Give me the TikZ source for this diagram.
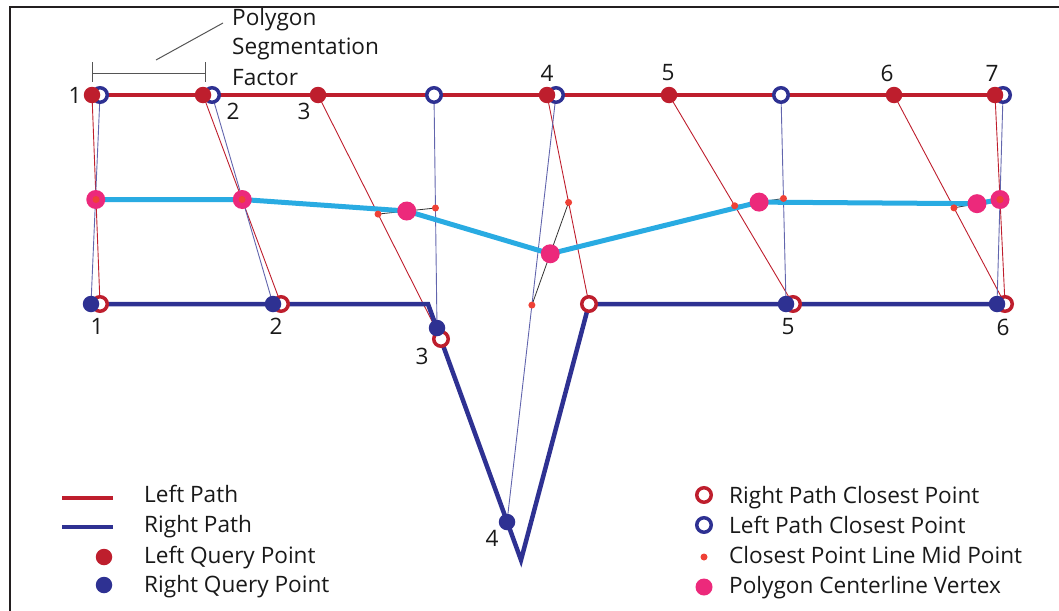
\documentclass[tikz,border=0pt]{standalone}
\usepackage{fontspec}
\setmainfont{Open Sans}
\usetikzlibrary{calc}
\definecolor{lred}{HTML}{BE1E2D}
\definecolor{rblue}{HTML}{2E3192}
\definecolor{cline}{HTML}{29ABE2}
\definecolor{pinkv}{HTML}{EC297B}
\definecolor{midred}{HTML}{EF4136}
\definecolor{framec}{HTML}{231F20}
\definecolor{dimc}{HTML}{555555}
\begin{document}
\begin{tikzpicture}[x=1pt,y=-1pt,
  lq/.style={circle,fill=lred,inner sep=0pt,minimum size=16.5pt},
  rq/.style={circle,fill=rblue,inner sep=0pt,minimum size=16.5pt},
  lc/.style={circle,draw=rblue,line width=3.5pt,fill=white,inner sep=0pt,minimum size=14.5pt},
  rc/.style={circle,draw=lred,line width=3.5pt,fill=white,inner sep=0pt,minimum size=14.5pt},
  md/.style={circle,fill=midred,inner sep=0pt,minimum size=7pt},
  pv/.style={circle,fill=pinkv,inner sep=0pt,minimum size=19pt},
  txt/.style={inner sep=0pt,text=black!90,font=\fontsize{22.6}{26}\selectfont},
  lab/.style={txt,anchor=base west},
  num/.style={txt},
  leftpath/.style={draw=lred,line width=4pt},
  rightpath/.style={draw=rblue,line width=4.5pt},
  centerpath/.style={draw=cline,line width=5pt},
  thinred/.style={draw=lred,line width=0.9pt},
  thinblue/.style={draw=rblue!75,line width=0.9pt},
  pairline/.style={draw=black!80,line width=0.8pt},
  dimline/.style={draw=dimc,line width=1pt}
]
\useasboundingbox (0,0) rectangle (1059,610);
% frame
\draw[framec,line width=2.5pt] (10,612) -- (10,7) -- (1061,7);

% left path query points and closest points
\coordinate (L1) at (92,95);  \coordinate (L2) at (203,95); \coordinate (L3) at (318,95);
\coordinate (L4) at (547,95); \coordinate (L5) at (669,95); \coordinate (L6) at (894,95);
\coordinate (L7) at (995,95);
\coordinate (LC1) at (100,95); \coordinate (LC2) at (212,95); \coordinate (LC3) at (434,95);
\coordinate (LC4) at (556,95); \coordinate (LC5) at (781,95); \coordinate (LC6) at (1003,95);
% right path
\coordinate (P0) at (92,304); \coordinate (Pa) at (428,304); \coordinate (Pb) at (521,560);
\coordinate (Pc) at (589,304); \coordinate (Pd) at (1004,304);
\coordinate (R1) at (91,304);  \coordinate (R2) at (273,304); \coordinate (R3) at (437,328);
\coordinate (R4) at (507,522); \coordinate (R5) at (786,304); \coordinate (R6) at (997,304);
\coordinate (RC1) at (100,304); \coordinate (RC2) at (281,304); \coordinate (RC3) at (441,339);
\coordinate (RC4) at (589,304); \coordinate (RC5) at (793,304); \coordinate (RC6) at (1005,304);

% mid points of closest point lines
\coordinate (m1r) at ($(L1)!0.5!(RC1)$); \coordinate (m1b) at ($(R1)!0.5!(LC1)$);
\coordinate (m2r) at ($(L2)!0.5!(RC2)$); \coordinate (m2b) at ($(R2)!0.5!(LC2)$);
\coordinate (m3r) at ($(L3)!0.488!(RC3)$); \coordinate (m3b) at ($(R3)!0.515!(LC3)$);
\coordinate (m4r) at ($(L4)!0.514!(RC4)$); \coordinate (m4b) at ($(R4)!0.508!(LC4)$);
\coordinate (m5r) at ($(L5)!0.53!(RC5)$); \coordinate (m5b) at ($(R5)!0.505!(LC5)$);
\coordinate (m6r) at ($(L6)!0.54!(RC6)$); \coordinate (m6b) at ($(R6)!0.5!(LC6)$);
\coordinate (m7r) at ($(L7)!0.5!(RC6)$);
% centerline vertices
\coordinate (V1) at ($(m1r)!0.5!(m1b)$);
\coordinate (V2) at ($(m2r)!0.5!(m2b)$);
\coordinate (V3) at ($(m3r)!0.5!(m3b)$);
\coordinate (V4) at ($(m4r)!0.5!(m4b)$);
\coordinate (V5) at ($(m5r)!0.5!(m5b)$);
\coordinate (V6) at ($(m6r)!0.5!(m6b)$);
\coordinate (V7) at ($(m7r)!0.5!(m6b)$);

% closest point lines
\draw[thinred] (L1) -- (RC1); \draw[thinred] (L2) -- (RC2); \draw[thinred] (L3) -- (RC3);
\draw[thinred] (L4) -- (RC4); \draw[thinred] (L5) -- (RC5); \draw[thinred] (L6) -- (RC6);
\draw[thinred] (L7) -- (RC6);
\draw[thinblue] (R1) -- (LC1); \draw[thinblue] (R2) -- (LC2); \draw[thinblue] (R3) -- (LC3);
\draw[thinblue] (R4) -- (LC4); \draw[thinblue] (R5) -- (LC5); \draw[thinblue] (R6) -- (LC6);
% pair lines
\draw[pairline] (m3r) -- (m3b); \draw[pairline] (m4r) -- (m4b);
\draw[pairline] (m5r) -- (m5b); \draw[pairline] (m6r) -- (m6b);

% paths
\draw[leftpath] (L1) -- (LC6);
\draw[rightpath,line join=miter] (P0) -- (Pa) -- (Pb) -- (Pc) -- (Pd);
\draw[centerpath,line join=round] (V1) -- (V2) -- (V3) -- (V4) -- (V5) -- (V6) -- (V7);

% closest point markers
\foreach \i in {1,...,6} { \node[lc] (lc\i) at (LC\i) {}; \node[rc] (rc\i) at (RC\i) {}; }
% query points
\foreach \i in {1,...,7} { \node[lq] (lq\i) at (L\i) {}; }
\foreach \i in {1,...,6} { \node[rq] (rq\i) at (R\i) {}; }
% centerline vertices
\foreach \i in {1,...,7} { \node[pv] (pv\i) at (V\i) {}; }
% mid points
\foreach \n in {m1r,m2r,m3r,m3b,m4r,m4b,m5r,m5b,m6r,m6b,m7r} { \node[md] (n\n) at (\n) {}; }

% numbers
\node[num] (tn1) at (75,95) {1};
\node[num] (tn2) at (233,111) {2};
\node[num] (tn3) at (304,111) {3};
\node[num] (tn4) at (547,73) {4};
\node[num] (tn5) at (668,73) {5};
\node[num] (tn6) at (887,73) {6};
\node[num] (tn7) at (992,73) {7};
\node[num] (bn1) at (97,326) {1};
\node[num] (bn2) at (276,326) {2};
\node[num] (bn3) at (422,356) {3};
\node[num] (bn4) at (492,538) {4};
\node[num] (bn5) at (788,327) {5};
\node[num] (bn6) at (1003,327) {6};

% segmentation factor
\coordinate (d1) at (92,73); \coordinate (d2) at (205,73);
\draw[dimline] (d1) -- (d2);
\draw[dimline] ($(d1)+(0,-11)$) -- ($(d1)+(0,9)$);
\draw[dimline] ($(d2)+(0,-11)$) -- ($(d2)+(0,9)$);
\coordinate (ld1) at (156,60); \coordinate (ld2) at (223,23);
\draw[dimline] (ld1) -- (ld2);
\node[lab] (sf1) at (232,26) {Polygon};
\node[lab] (sf2) at (232,55) {Segmentation};
\node[lab] (sf3) at (232,85) {Factor};

% legend left
\coordinate (g1a) at (62,498); \coordinate (g1b) at (113,498);
\coordinate (g2a) at (62,527); \coordinate (g2b) at (113,527);
\draw[leftpath] (g1a) -- (g1b);
\draw[rightpath,line width=4pt] (g2a) -- (g2b);
\node[lq] (g3) at (104,557) {};
\node[rq] (g4) at (104,585) {};
\node[lab] (gt1) at (144,502) {Left Path};
\node[lab] (gt2) at (144,532) {Right Path};
\node[lab] (gt3) at (144,563) {Left Query Point};
\node[lab] (gt4) at (144,592) {Right Query Point};
% legend right
\node[rc] (h1) at (704,495) {};
\node[lc] (h2) at (704,525) {};
\node[md] (h3) at (704,557) {};
\node[pv,minimum size=17pt] (h4) at (704,587) {};
\node[lab] (ht1) at (729,503) {Right Path Closest Point};
\node[lab] (ht2) at (729,533) {Left Path Closest Point};
\node[lab] (ht3) at (729,563) {Closest Point Line Mid Point};
\node[lab] (ht4) at (729,593) {Polygon Centerline Vertex};
\end{tikzpicture}
\end{document}
